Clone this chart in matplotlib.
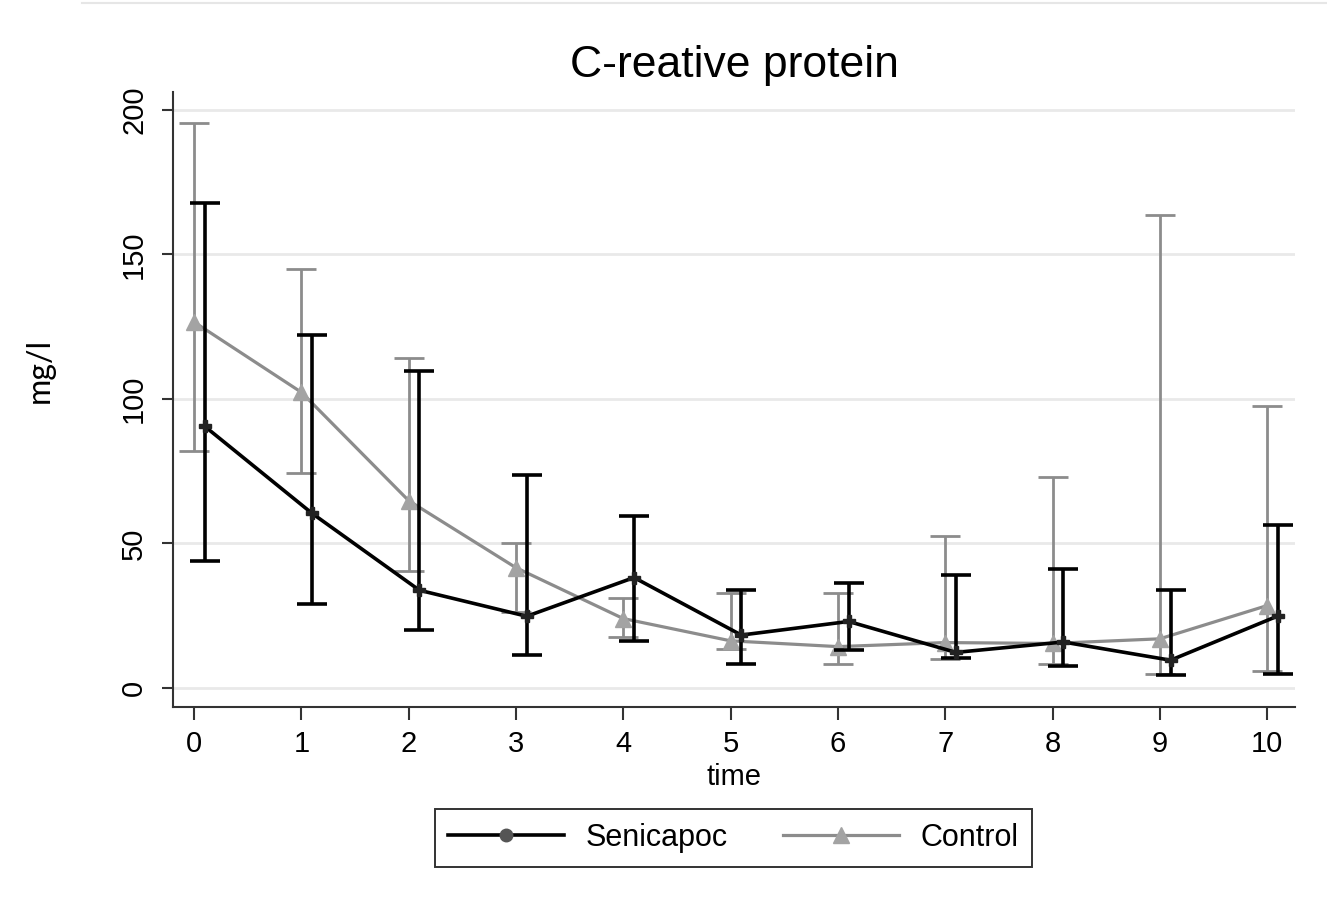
import numpy as np
import matplotlib
matplotlib.use("Agg")
import matplotlib.pyplot as plt
from matplotlib.lines import Line2D

# CRP by visit, mean with confidence interval
time = np.arange(0, 11)

senicapoc_mean = [90.5, 60.4, 33.8, 24.8, 38.2, 18.3, 23.0, 12.3, 15.9, 9.6, 24.9]
senicapoc_upper = [167.9, 122.2, 109.7, 73.7, 59.4, 33.9, 36.3, 39.2, 41.3, 33.8, 56.5]
senicapoc_lower = [44.0, 29.2, 19.9, 11.4, 16.3, 8.2, 13.2, 10.3, 7.6, 4.6, 4.7]

control_mean = [126.6, 102.3, 64.8, 41.6, 24.0, 16.3, 14.3, 15.7, 15.4, 17.0, 28.5]
control_upper = [195.4, 144.8, 114.0, 50.0, 31.0, 33.0, 33.0, 52.7, 73.0, 163.7, 97.6]
control_lower = [82.0, 74.2, 40.3, 26.3, 17.5, 13.5, 8.3, 10.0, 8.3, 4.8, 5.8]

yticks = [0, 50, 100, 150, 200]

plt.rcParams['font.family'] = ['Liberation Sans', 'DejaVu Sans']

fig = plt.figure(figsize=(13.27, 9.09), dpi=100)
ax = fig.add_axes([0.1304, 0.2222, 0.8455, 0.6766])

def ci(mean, lower, upper):
    m = np.array(mean)
    return [m - np.array(lower), np.array(upper) - m]

# control first so the treatment group sits on top
ax.errorbar(time, control_mean, yerr=ci(control_mean, control_lower, control_upper),
            color='#8c8c8c', lw=2.3, marker='^', markersize=12,
            markerfacecolor='#a3a3a3', markeredgecolor='#a3a3a3',
            ecolor='#8c8c8c', elinewidth=2.0, capsize=11, capthick=2.0,
            label='Control', zorder=3)
ax.errorbar(time + 0.1, senicapoc_mean, yerr=ci(senicapoc_mean, senicapoc_lower, senicapoc_upper),
            color='black', lw=2.6, marker='P', markersize=9,
            markerfacecolor='#222222', markeredgecolor='#222222',
            ecolor='black', elinewidth=2.6, capsize=11, capthick=2.6,
            label='Senicapoc', zorder=4)

ax.set_xlim(-0.196, 10.26)
ax.set_ylim(-6.6, 206.2)
ax.set_xticks(time)
ax.set_yticks(yticks)
ax.yaxis.grid(True, color='#e9e9e9', lw=2.0)
ax.set_axisbelow(True)

for side in ['top', 'right']:
    ax.spines[side].set_visible(False)
for side in ['left', 'bottom']:
    ax.spines[side].set_linewidth(1.5)
    ax.spines[side].set_color('#333333')

ax.tick_params(axis='x', length=9.5, width=1.5, color='#333333', labelsize=21, pad=7)
ax.tick_params(axis='y', length=8, width=1.5, color='#333333', labelsize=21, pad=10, labelrotation=90)
for lab in ax.get_yticklabels():
    lab.set_va('center')

ax.set_xlabel('time', fontsize=21, labelpad=4)
ax.set_title('C-reative protein', fontsize=32, pad=11)

fig.text(0.030, 0.593, 'mg/l', rotation=90, fontsize=23, family='Lato',
         ha='center', va='center')

# thin rule along the top edge
fig.add_artist(Line2D([0.062, 1.0], [0.9965, 0.9965], transform=fig.transFigure,
                      color='#e6e6e6', lw=1.5))

handles = [Line2D([], [], color='black', lw=2.6, marker='o', markersize=9,
                  markerfacecolor='#555555', markeredgecolor='#555555'),
           Line2D([], [], color='#8c8c8c', lw=2.3, marker='^', markersize=12,
                  markerfacecolor='#a3a3a3', markeredgecolor='#a3a3a3')]
leg = fig.legend(handles, ['Senicapoc', 'Control'], loc='center',
                 bbox_to_anchor=(0.5527, 0.078), ncol=2, fontsize=22,
                 frameon=True, fancybox=False, edgecolor='black',
                 handlelength=3.8, handletextpad=0.7, columnspacing=1.8,
                 borderpad=0.45)
leg.get_frame().set_linewidth(1.4)

fig.savefig('out.png', dpi=100)
